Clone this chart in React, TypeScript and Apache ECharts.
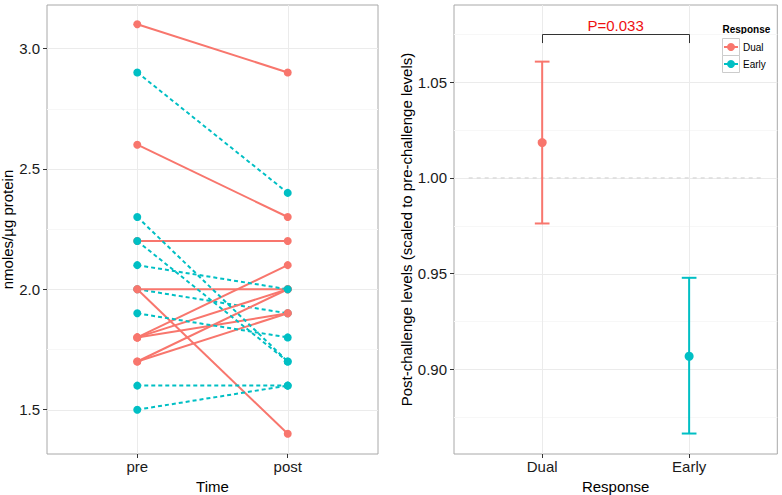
import React, { useEffect, useRef } from "react";
import * as echarts from "echarts";

// ---------- data ----------
const timeLabels = ["pre", "post"];
const dualPre = [2.2, 3.1, 2.6, 2.0, 2.0, 1.8, 1.8, 1.8, 1.7, 1.7];
const dualPost = [2.2, 2.9, 2.3, 2.0, 1.4, 2.1, 2.0, 1.9, 2.0, 1.9];
const earlyPre = [2.0, 2.9, 2.3, 2.2, 2.1, 1.9, 1.6, 1.5];
const earlyPost = [1.9, 2.4, 1.7, 1.7, 2.0, 1.8, 1.6, 1.6];
const earlyDrawnBelowDual = 1; // first Early subject is drawn underneath Dual points

const responses = ["Dual", "Early"];
const ratioMean = [1.0185, 0.9068];
const ratioLower = [0.9762, 0.8664];
const ratioUpper = [1.0608, 0.9478];
const referenceLevel = 1.0;
const pLabel = "P=0.033";
const bracketTop = 1.0752;
const bracketFoot = 1.0705;

const leftYTicks = [1.5, 2.0, 2.5, 3.0];
const leftYMinor = [1.75, 2.25, 2.75];
const rightYTicks = [0.9, 0.95, 1.0, 1.05];
const rightYMinor = [0.875, 0.925, 0.975, 1.025, 1.075];
const xPositions = [1, 2];

// ---------- styles ----------
const COLORS: Record<string, string> = { Dual: "#F8766D", Early: "#00BFC4" };
const FONT = "Liberation Sans, Arial, Helvetica, sans-serif";
const FS = 15;

function gridLineSeries(idx: number, hMajor: number[], hMinor: number[], vMajor: number[], yMid: number) {
  const data = [
    ...hMinor.map((v) => [0, v, 0]),
    ...hMajor.map((v) => [0, v, 1]),
    ...vMajor.map((v) => [1, v, 1]),
  ];
  return {
    type: "custom",
    xAxisIndex: idx,
    yAxisIndex: idx,
    silent: true,
    z: 0,
    data,
    renderItem: (params: any, api: any) => {
      const cs = params.coordSys;
      const orient = api.value(0);
      const v = api.value(1);
      const major = api.value(2);
      const color = major ? "#ebebeb" : "#f7f7f7";
      if (orient === 0) {
        const y = Math.round(api.coord([1.5, v])[1]) + 0.5;
        return {
          type: "line",
          shape: { x1: cs.x, y1: y, x2: cs.x + cs.width, y2: y },
          style: { stroke: color, lineWidth: 1 },
        };
      }
      const x = Math.round(api.coord([v, yMid])[0]) + 0.5;
      return {
        type: "line",
        shape: { x1: x, y1: cs.y, x2: x, y2: cs.y + cs.height },
        style: { stroke: color, lineWidth: 1 },
      };
    },
  };
}

function baseAxisCommon() {
  return {
    axisLine: { show: false },
    splitLine: { show: false },
    minorSplitLine: { show: false },
  };
}

export default function App() {
  const ref = useRef<HTMLDivElement>(null);

  useEffect(() => {
    if (!ref.current) return;
    const chart = echarts.init(ref.current, undefined, { renderer: "svg" });

    // subjects in drawing order
    type Subj = { g: string; pre: number; post: number };
    const subjects: Subj[] = [];
    for (let i = 0; i < earlyDrawnBelowDual; i++) subjects.push({ g: "Early", pre: earlyPre[i], post: earlyPost[i] });
    dualPre.forEach((v, i) => subjects.push({ g: "Dual", pre: v, post: dualPost[i] }));
    for (let i = earlyDrawnBelowDual; i < earlyPre.length; i++) subjects.push({ g: "Early", pre: earlyPre[i], post: earlyPost[i] });

    const lineSeries = subjects.map((s) => ({
      type: "line",
      xAxisIndex: 0,
      yAxisIndex: 0,
      silent: true,
      symbol: "none",
      showSymbol: false,
      z: 2,
      data: [
        [xPositions[0], s.pre],
        [xPositions[1], s.post],
      ],
      lineStyle: { color: COLORS[s.g], width: 2, type: s.g === "Early" ? [4, 3] : "solid" },
    }));

    const pointData: any[] = [];
    subjects.forEach((s) => {
      pointData.push({ value: [xPositions[0], s.pre], itemStyle: { color: COLORS[s.g], opacity: 1 } });
      pointData.push({ value: [xPositions[1], s.post], itemStyle: { color: COLORS[s.g], opacity: 1 } });
    });

    const tick = (vals: number[]) => ({ show: true, length: 4, lineStyle: { color: "#333", width: 1 }, customValues: vals });
    const label = (vals: number[], fmt: (v: number) => string, margin: number) => ({
      customValues: vals,
      formatter: fmt,
      color: "#1a1a1a",
      fontSize: FS,
      fontFamily: FONT,
      margin,
    });
    const nameStyle = { fontSize: FS, color: "#000", fontFamily: FONT };

    const option: any = {
      animation: false,
      backgroundColor: "#ffffff",
      textStyle: { fontFamily: FONT },
      grid: [
        { left: 47, top: 5, width: 331, height: 449, show: true, borderColor: "#a8a8a8", borderWidth: 1, backgroundColor: "transparent", outerBoundsMode: "none" },
        { left: 454, top: 5, width: 323.3, height: 449, show: true, borderColor: "#a8a8a8", borderWidth: 1, backgroundColor: "transparent", outerBoundsMode: "none" },
      ],
      xAxis: [
        {
          ...baseAxisCommon(),
          type: "value",
          gridIndex: 0,
          min: 0.4,
          max: 2.6,
          axisTick: tick(xPositions),
          axisLabel: label(xPositions, (v: number) => timeLabels[Math.round(v) - 1] ?? "", 5),
          name: "Time",
          nameLocation: "middle",
          nameGap: 20,
          nameTextStyle: nameStyle,
        },
        {
          ...baseAxisCommon(),
          type: "value",
          gridIndex: 1,
          min: 0.4,
          max: 2.6,
          axisTick: tick(xPositions),
          axisLabel: label(xPositions, (v: number) => responses[Math.round(v) - 1] ?? "", 5),
          name: "Response",
          nameLocation: "middle",
          nameGap: 20,
          nameTextStyle: nameStyle,
        },
      ],
      yAxis: [
        {
          ...baseAxisCommon(),
          type: "value",
          gridIndex: 0,
          min: 1.316,
          max: 3.18,
          axisTick: tick(leftYTicks),
          axisLabel: label(leftYTicks, (v: number) => v.toFixed(1), 7),
          name: "nmoles/µg protein",
          nameLocation: "middle",
          nameGap: 30,
          nameRotate: 90,
          nameTextStyle: nameStyle,
        },
        {
          ...baseAxisCommon(),
          type: "value",
          gridIndex: 1,
          min: 0.8557,
          max: 1.0904,
          axisTick: tick(rightYTicks),
          axisLabel: label(rightYTicks, (v: number) => v.toFixed(2), 7),
          name: "Post-challenge levels (scaled to pre-challenge levels)",
          nameLocation: "middle",
          nameGap: 39,
          nameRotate: 90,
          nameTextStyle: nameStyle,
        },
      ],
      series: [
        gridLineSeries(0, leftYTicks, leftYMinor, xPositions, 2.0),
        gridLineSeries(1, rightYTicks, rightYMinor, xPositions, 1.0),
        ...lineSeries,
        {
          type: "scatter",
          xAxisIndex: 0,
          yAxisIndex: 0,
          silent: true,
          symbol: "circle",
          symbolSize: 8,
          z: 3,
          itemStyle: { opacity: 1 },
          data: pointData,
        },
        {
          type: "line",
          xAxisIndex: 1,
          yAxisIndex: 1,
          silent: true,
          symbol: "none",
          z: 1,
          data: [
            [0.5, referenceLevel],
            [2.5, referenceLevel],
          ],
          lineStyle: { color: "#cfcfcf", width: 1, type: [4, 4] },
        },
        {
          type: "custom",
          xAxisIndex: 1,
          yAxisIndex: 1,
          silent: true,
          z: 3,
          data: responses.map((r, i) => [xPositions[i], ratioLower[i], ratioUpper[i]]),
          renderItem: (params: any, api: any) => {
            const x = api.value(0);
            const lo = api.coord([x, api.value(1)]);
            const hi = api.coord([x, api.value(2)]);
            const capL = api.coord([x - 0.05, api.value(1)])[0];
            const capR = api.coord([x + 0.05, api.value(1)])[0];
            const color = COLORS[responses[params.dataIndex]];
            const st = { stroke: color, lineWidth: 2 };
            return {
              type: "group",
              children: [
                { type: "line", shape: { x1: lo[0], y1: lo[1], x2: hi[0], y2: hi[1] }, style: st },
                { type: "line", shape: { x1: capL, y1: lo[1], x2: capR, y2: lo[1] }, style: st },
                { type: "line", shape: { x1: capL, y1: hi[1], x2: capR, y2: hi[1] }, style: st },
              ],
            };
          },
        },
        {
          type: "scatter",
          xAxisIndex: 1,
          yAxisIndex: 1,
          silent: true,
          symbol: "circle",
          symbolSize: 9,
          z: 4,
          itemStyle: { opacity: 1 },
          data: responses.map((r, i) => ({ value: [xPositions[i], ratioMean[i]], itemStyle: { color: COLORS[r], opacity: 1 } })),
        },
        {
          type: "custom",
          xAxisIndex: 1,
          yAxisIndex: 1,
          silent: true,
          z: 5,
          data: [[xPositions[0], xPositions[1], bracketTop, bracketFoot]],
          renderItem: (params: any, api: any) => {
            const a = api.coord([api.value(0), api.value(2)]);
            const b = api.coord([api.value(1), api.value(2)]);
            const footY = api.coord([api.value(0), api.value(3)])[1];
            const topY = Math.round(a[1]) + 0.5;
            return {
              type: "group",
              children: [
                {
                  type: "polyline",
                  shape: {
                    points: [
                      [Math.round(a[0]) + 0.5, footY],
                      [Math.round(a[0]) + 0.5, topY],
                      [Math.round(b[0]) + 0.5, topY],
                      [Math.round(b[0]) + 0.5, footY],
                    ],
                  },
                  style: { stroke: "#333", lineWidth: 1, fill: "none" },
                },
                {
                  type: "text",
                  x: (a[0] + b[0]) / 2,
                  y: topY - 2,
                  style: {
                    text: pLabel,
                    fill: "#ee1111",
                    fontSize: FS,
                    fontFamily: FONT,
                    align: "center",
                    verticalAlign: "bottom",
                  },
                },
              ],
            };
          },
        },
      ],
      graphic: [
        {
          type: "text",
          left: 722.5,
          top: 24,
          style: { text: "Response", fontSize: 10, fontWeight: "bold", fontFamily: FONT, fill: "#000" },
        },
        ...responses.flatMap((r, i) => {
          const y0 = 38 + i * 17;
          return [
            { type: "rect", shape: { x: 722.5, y: y0 + 0.5, width: 17, height: 17 }, style: { fill: "#fff", stroke: "#cccccc", lineWidth: 1 } },
            { type: "line", shape: { x1: 724, y1: y0 + 9, x2: 738, y2: y0 + 9 }, style: { stroke: COLORS[r], lineWidth: 2 } },
            { type: "circle", shape: { cx: 731, cy: y0 + 9, r: 4 }, style: { fill: COLORS[r] } },
            {
              type: "text",
              x: 743,
              y: y0 + 9,
              style: { text: r, fontSize: 10, fontFamily: FONT, fill: "#000", verticalAlign: "middle" },
            },
          ];
        }),
      ],
    };

    chart.setOption(option);
    return () => chart.dispose();
  }, []);

  return (
    <div
      ref={ref}
      style={{ position: "fixed", left: 0, top: 0, width: 782, height: 495, background: "#fff" }}
    />
  );
}
